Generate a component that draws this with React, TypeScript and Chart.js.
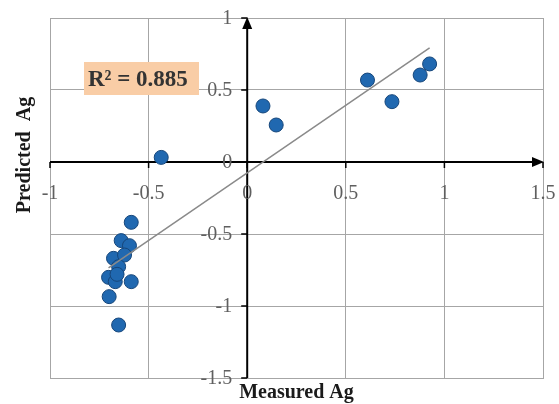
import React, { useEffect, useRef } from "react";
import { Chart, registerables } from "chart.js";

Chart.register(...registerables);

// Measured vs. predicted Ag values
const measuredAg = [
  -0.588, -0.639, -0.597, -0.678, -0.622, -0.652, -0.703, -0.669, -0.588, -0.7, -0.652, -0.66,
  -0.436, 0.08, 0.147, 0.61, 0.734, 0.877, 0.925,
];
const predictedAg = [
  -0.419, -0.546, -0.581, -0.669, -0.646, -0.727, -0.801, -0.831, -0.831, -0.935, -1.132, -0.78,
  0.032, 0.389, 0.257, 0.569, 0.419, 0.604, 0.681,
];

const xTicks = [-1, -0.5, 0, 0.5, 1, 1.5];
const yTicks = [-1.5, -1, -0.5, 0, 0.5, 1];
const r2Label = "R² = 0.885";

const SERIF = '"Liberation Serif", "Times New Roman", serif';

// least-squares trendline across the measured range
function trendline(xs: number[], ys: number[]) {
  const n = xs.length;
  const mx = xs.reduce((a, b) => a + b, 0) / n;
  const my = ys.reduce((a, b) => a + b, 0) / n;
  let sxy = 0;
  let sxx = 0;
  for (let i = 0; i < n; i++) {
    sxy += (xs[i] - mx) * (ys[i] - my);
    sxx += (xs[i] - mx) * (xs[i] - mx);
  }
  const slope = sxy / sxx;
  const icpt = my - slope * mx;
  const x0 = Math.min(...xs);
  const x1 = Math.max(...xs);
  return [
    { x: x0, y: slope * x0 + icpt },
    { x: x1, y: slope * x1 + icpt },
  ];
}

const axesPlugin = {
  id: "crossAxes",
  beforeDatasetsDraw(chart: any) {
    const { ctx, scales } = chart;
    const xs = scales.x;
    const ys = scales.y;
    const x0 = xs.getPixelForValue(0);
    const y0 = ys.getPixelForValue(0);
    const left = xs.getPixelForValue(-1);
    const right = xs.getPixelForValue(1.5);
    const top = ys.getPixelForValue(1);
    const bottom = ys.getPixelForValue(-1.5);
    ctx.save();
    ctx.strokeStyle = "#000";
    ctx.fillStyle = "#000";
    ctx.lineWidth = 2;
    // horizontal axis with arrow
    ctx.beginPath();
    ctx.moveTo(left, y0);
    ctx.lineTo(right - 8, y0);
    ctx.stroke();
    ctx.beginPath();
    ctx.moveTo(right + 1, y0);
    ctx.lineTo(right - 11, y0 - 5);
    ctx.lineTo(right - 11, y0 + 5);
    ctx.closePath();
    ctx.fill();
    // vertical axis with arrow
    ctx.beginPath();
    ctx.moveTo(x0, bottom);
    ctx.lineTo(x0, top + 8);
    ctx.stroke();
    ctx.beginPath();
    ctx.moveTo(x0, top - 1);
    ctx.lineTo(x0 - 5, top + 11);
    ctx.lineTo(x0 + 5, top + 11);
    ctx.closePath();
    ctx.fill();
    // tick marks
    ctx.lineWidth = 1.5;
    xTicks.forEach((v) => {
      const px = xs.getPixelForValue(v);
      ctx.beginPath();
      ctx.moveTo(px, y0);
      ctx.lineTo(px, y0 + 6);
      ctx.stroke();
    });
    yTicks.forEach((v) => {
      const py = ys.getPixelForValue(v);
      ctx.beginPath();
      ctx.moveTo(x0 - 6, py);
      ctx.lineTo(x0, py);
      ctx.stroke();
    });
    ctx.restore();
  },
  afterDraw(chart: any) {
    const { ctx, scales } = chart;
    const xs = scales.x;
    const ys = scales.y;
    const x0 = xs.getPixelForValue(0);
    const y0 = ys.getPixelForValue(0);
    ctx.save();
    // tick labels
    ctx.font = `20px ${SERIF}`;
    ctx.fillStyle = "#5f5f5f";
    ctx.textAlign = "center";
    ctx.textBaseline = "middle";
    xTicks.forEach((v) => {
      ctx.fillText(String(v), xs.getPixelForValue(v), y0 + 32);
    });
    ctx.textAlign = "right";
    yTicks.forEach((v) => {
      ctx.fillText(String(v), x0 - 15, ys.getPixelForValue(v) + 1);
    });
    // axis titles
    ctx.fillStyle = "#1a1a1a";
    ctx.font = `bold 20px ${SERIF}`;
    ctx.textAlign = "center";
    ctx.fillText("Measured Ag", (chart.chartArea.left + chart.chartArea.right) / 2, 393);
    ctx.save();
    ctx.translate(25, 155);
    ctx.rotate(-Math.PI / 2);
    ctx.fillText("Predicted  Ag", 0, 0);
    ctx.restore();
    // R² box
    ctx.fillStyle = "rgb(249, 205, 166)";
    ctx.fillRect(84, 62, 115, 33);
    ctx.fillStyle = "#333";
    ctx.font = `bold 23px ${SERIF}`;
    ctx.textAlign = "left";
    ctx.fillText(r2Label, 88, 80);
    ctx.restore();
  },
};

export default function App() {
  const canvasRef = useRef<HTMLCanvasElement | null>(null);

  useEffect(() => {
    if (!canvasRef.current) return;
    const points = measuredAg.map((x, i) => ({ x, y: predictedAg[i] }));
    const chart = new Chart(canvasRef.current, {
      type: "scatter",
      data: {
        datasets: [
          {
            type: "line",
            data: trendline(measuredAg, predictedAg),
            borderColor: "#8a8a8a",
            borderWidth: 1.5,
            pointRadius: 0,
            fill: false,
          } as any,
          {
            data: points,
            backgroundColor: "rgb(32, 104, 176)",
            borderColor: "rgb(22, 70, 122)",
            borderWidth: 1,
            pointRadius: 7,
          },
        ],
      },
      options: {
        animation: false,
        responsive: false,
        layout: { padding: { left: 50, right: 16, top: 18, bottom: 26 } },
        plugins: { legend: { display: false }, tooltip: { enabled: false } },
        scales: {
          x: {
            type: "linear",
            min: -1,
            max: 1.5,
            ticks: { display: false, stepSize: 0.5 },
            grid: { color: "#a6a6a6", lineWidth: 1, drawTicks: false },
            border: { display: true, color: "#a6a6a6" },
          },
          y: {
            type: "linear",
            min: -1.5,
            max: 1,
            ticks: { display: false, stepSize: 0.5 },
            grid: { color: "#a6a6a6", lineWidth: 1, drawTicks: false },
            border: { display: true, color: "#a6a6a6" },
          },
        },
      },
      plugins: [axesPlugin],
    });
    return () => chart.destroy();
  }, []);

  return (
    <div style={{ position: "fixed", left: 0, top: 0, width: 559, height: 404, background: "#fff" }}>
      <canvas ref={canvasRef} width={559} height={404} style={{ display: "block" }} />
    </div>
  );
}
